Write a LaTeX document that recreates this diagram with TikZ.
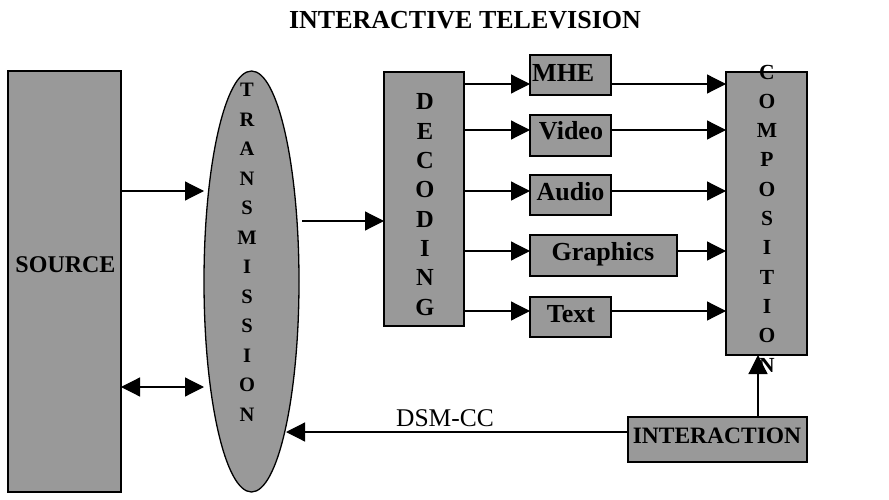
\documentclass[tikz,border=0pt]{standalone}
\usepackage{fontspec}
\setmainfont{Liberation Serif}
\usetikzlibrary{arrows.meta,shapes.geometric}
\definecolor{boxgray}{RGB}{153,153,153}
\begin{document}
\begin{tikzpicture}[x=1pt,y=-1pt,
  blk/.style={draw, line width=1.3pt, fill=boxgray, inner sep=0pt, outer sep=0pt},
  oval/.style={ellipse, draw, line width=1.3pt, fill=boxgray, inner sep=0pt, outer sep=0pt},
  arr/.style={line width=1.2pt, -{Triangle[length=19pt,width=19pt]}},
  darr/.style={line width=1.2pt, {Triangle[length=19pt,width=19pt]}-{Triangle[length=19pt,width=19pt]}},
  lbl/.style={inner sep=0pt, anchor=base, font=\fontsize{26}{26}\selectfont\bfseries},
  ltrT/.style={inner sep=0pt, font=\fontsize{20.5}{20.5}\selectfont\bfseries},
  ltrD/.style={inner sep=0pt, font=\fontsize{24.5}{24.5}\selectfont\bfseries},
  ltrC/.style={inner sep=0pt, font=\fontsize{21.5}{21.5}\selectfont\bfseries}]
\useasboundingbox (0,0) rectangle (889,500);

% title
\node[inner sep=0pt, anchor=base, font=\fontsize{26}{26}\selectfont\bfseries] (title) at (465,28.3) {INTERACTIVE TELEVISION};

% main blocks
\node[blk, minimum width=113pt, minimum height=421pt] (src) at (64.5,281.5) {};
\node[oval, minimum width=95pt, minimum height=421pt] (trans) at (251.5,281.5) {};
\node[blk, minimum width=80pt, minimum height=254pt] (dec) at (424,199) {};
\node[blk, minimum width=81pt, minimum height=40pt] (mhe) at (570.5,75) {};
\node[blk, minimum width=81pt, minimum height=41pt] (vid) at (570.5,135.5) {};
\node[blk, minimum width=81pt, minimum height=40pt] (aud) at (570.5,195) {};
\node[blk, minimum width=147pt, minimum height=41pt] (gra) at (603.5,255.5) {};
\node[blk, minimum width=81pt, minimum height=40pt] (txt) at (570.5,317) {};
\node[blk, minimum width=81pt, minimum height=283pt] (comp) at (766.5,213.5) {};
\node[blk, minimum width=179pt, minimum height=45pt] (inter) at (717.5,439.5) {};

% labels
\node[lbl, font=\fontsize{24}{24}\selectfont\bfseries] (srcl) at (65.5,272) {SOURCE};
\node[lbl, anchor=base west] (mhel) at (532,82) {MHE};
\node[lbl] (vidl) at (571,140) {Video};
\node[lbl] (audl) at (570.5,200.7) {Audio};
\node[lbl] (gral) at (603,260) {Graphics};
\node[lbl] (txtl) at (571,322) {Text};
\node[lbl, font=\fontsize{23.5}{23.5}\selectfont\bfseries] (interl) at (717,443) {INTERACTION};

% vertical letters
\foreach \l [count=\i from 0] in {T,R,A,N,S,M,I,S,S,I,O,N}
  \node[ltrT] (tl\i) at (247,90+29.5*\i) {\l};
\foreach \l [count=\i from 0] in {D,E,C,O,D,I,N,G}
  \node[ltrD] (dl\i) at (425,102+29.3*\i) {\l};
\foreach \l [count=\i from 0] in {C,O,M,P,O,S,I,T,I,O,N}
  \node[ltrC] (cl\i) at (767,72+29.3*\i) {\l};

% row coordinates
\coordinate (r1) at (0,191);
\coordinate (r2) at (0,387);
\coordinate (r3) at (0,221);
\coordinate (m1) at (0,84);
\coordinate (m2) at (0,130);
\coordinate (m3) at (0,191);
\coordinate (m4) at (0,251);
\coordinate (m5) at (0,311);
\coordinate (rd) at (0,432);
\coordinate (cv) at (758,0);
\coordinate (tstart) at (302,221);
\coordinate (dtip) at (286,432);

% connectors
\draw[arr] (src.east |- r1) -- (trans.west |- r1);
\draw[darr] (src.east |- r2) -- (trans.west |- r2);
\draw[arr] (tstart) -- (dec.west |- r3);
\foreach \b/\m in {mhe/m1,vid/m2,aud/m3,gra/m4,txt/m5}{
  \draw[arr] (dec.east |- \m) -- (\b.west |- \m);
  \draw[arr] (\b.east |- \m) -- (comp.west |- \m);
}
\draw[arr] (inter.west |- rd) -- (dtip);
\draw[arr] (inter.north -| cv) -- (comp.south -| cv);

% DSM-CC label
\node[inner sep=0pt, anchor=base, font=\fontsize{25.5}{25.5}\selectfont] (dsm) at (445,426) {DSM-CC};
\end{tikzpicture}
\end{document}
